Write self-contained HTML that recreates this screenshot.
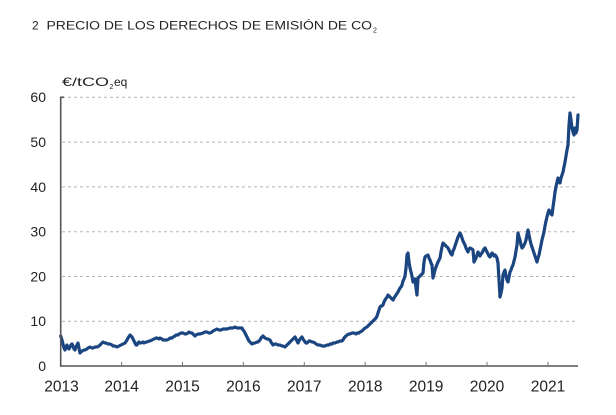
<!DOCTYPE html>
<html>
<head>
<meta charset="utf-8">
<style>
html,body{margin:0;padding:0;background:#fff;}
svg{display:block;}
text{font-family:"Liberation Sans",Arial,sans-serif;fill:#222;}
</style>
</head>
<body>
<svg width="616" height="415" viewBox="0 0 616 415" xmlns="http://www.w3.org/2000/svg">
<rect width="616" height="415" fill="#fff"/>
<!-- title -->
<text x="32" y="29.5" font-size="12">2</text>
<text x="46.5" y="29.5" font-size="12" textLength="325.5" lengthAdjust="spacingAndGlyphs">PRECIO DE LOS DERECHOS DE EMISIÓN DE CO</text>
<text x="373" y="32.5" font-size="7">2</text>
<!-- unit -->
<text x="62" y="86" font-size="12" textLength="47" lengthAdjust="spacingAndGlyphs">€/tCO</text>
<text x="109.5" y="89" font-size="7">2</text>
<text x="114" y="86" font-size="12">eq</text>
<!-- gridlines -->
<g stroke="#b5b5b5" stroke-width="1" stroke-dasharray="3,3">
<line x1="62" y1="97.3" x2="578" y2="97.3"/>
<line x1="62" y1="142.1" x2="578" y2="142.1"/>
<line x1="62" y1="186.9" x2="578" y2="186.9"/>
<line x1="62" y1="231.7" x2="578" y2="231.7"/>
<line x1="62" y1="276.5" x2="578" y2="276.5"/>
<line x1="62" y1="321.3" x2="578" y2="321.3"/>
</g>
<!-- y labels -->
<g font-size="14" text-anchor="end">
<text x="46" y="102">60</text>
<text x="46" y="147">50</text>
<text x="46" y="192">40</text>
<text x="46" y="236.5">30</text>
<text x="46" y="281.5">20</text>
<text x="46" y="326">10</text>
<text x="46" y="371">0</text>
</g>
<!-- series -->
<polyline fill="none" stroke="#1a4580" stroke-width="3.2" stroke-linejoin="round" stroke-linecap="round" points="
60.7,336 62,340 63,344 64,348 65,350 66,347 67,345 68,348 69,349 70,347 71,345 72,344 73,346 74,349 75,350 76,347 77,345 78,343 79,348 80,353 81,352 82,351 84,350 85,350 87,349 88,348 90,347 92,348 93,348 95,347 97,347 99,346 100,345 102,343 103,342 105,343 106,343 108,344 110,344 112,345 113,346 115,346 117,347 119,346 121,345 123,344 125,343 127,340 128,338 130,335 131,336 132,337 133,339 134,341 135,343 136,345 137,345 138,343 139,342 140,343 141,343 143,342 144,343 146,342 147,342 149,341 150,341 152,340 154,339 156,338 157,338 159,339 160,338 162,339 163,340 165,340 167,340 169,339 170,338 172,338 173,337 175,336 176,335 178,335 179,334 181,333 183,333 185,334 186,334 188,333 189,332 191,333 192,333 194,335 195,336 196,335 198,334 200,334 203,333 205,332 207,332 209,333 210,333 212,332 213,331 215,330 217,329 219,330 221,330 223,329 225,329 227,329 230,328 232,328 233,328 235,327 237,328 238,328 240,328 242,328 243,330 244,331 246,335 247,337 249,341 250,342 252,344 254,343 255,343 257,342 258,342 260,340 261,338 262,337 263,336 264,337 265,338 267,339 268,339 270,340 271,342 273,345 275,344 276,344 278,345 280,345 282,346 283,346 285,347 287,345 288,344 290,342 292,340 293,339 295,337 296,339 297,341 298,343 299,341 300,339 301,338 302,337 303,339 305,342 306,343 307,343 309,341 310,341 312,342 313,342 315,343 316,344 318,345 320,345 322,346 323,346 325,346 327,345 329,345 330,344 332,344 333,343 335,343 337,342 338,342 340,341 342,341 343,340 344,338 345,337 346,336 347,335 349,334 350,334 352,333 354,333 356,334 357,333 359,333 360,332 362,331 363,330 365,328 367,327 368,326 370,324 371,323 372,322 374,320 375,319 376,318 377,316 378,313 379,310 380,307 381,306 382,306 383,305 384,302 385,300 387,297 388,295 389,296 390,297 392,299 393,300 394,298 396,295 398,292 400,288 401,287 402,285 403,281 404,279 405,276 406,268 407,255 408,253 409,262 410,268 411,272 412,276 413,282 414,280 415,279 416,288 417,295 418,278 419,277 420,276 422,274 423,273 424,262 425,257 426,256 428,255 429,258 430,260 431,263 432,265 433,278 434,274 435,270 436,267 438,262 439,260 440,258 441,252 442,247 443,243 444,244 446,246 447,247 448,248 449,250 450,252 451,254 452,255 453,251 454,249 455,246 456,243 457,240 458,237 459,235 460,233 461,235 462,238 463,241 464,243 465,245 466,248 467,250 468,252 469,249 470,248 472,249 473,250 474,262 475,260 476,258 477,255 478,252 479,254 480,256 481,254 482,253 483,251 484,249 485,248 486,250 487,252 488,254 489,256 490,257 491,255 492,253 493,254 494,256 495,255 496,256 497,258 498,263 499,280 500,297 501,293 502,288 503,275 504,272 505,270 506,276 507,280 508,282 509,277 510,272 511,270 512,267 513,265 514,261 515,257 516,251 517,245 518,233 519,237 520,240 521,245 522,248 523,247 524,245 525,243 526,240 527,235 528,230 529,235 530,240 531,244 532,247 533,250 534,253 535,256 536,259 537,262 538,258 539,255 540,250 541,245 542,240 543,236 544,232 545,226 546,221 547,217 548,213 549,210 550,212 551,214 552,215 553,207 554,200 555,192 556,187 557,182 558,178 559,181 560,183 561,178 562,175 563,172 564,167 565,162 566,156 567,150 568,145 569,125 570,113 571,120 572,128 573,132 574,135 575,128 576,133 577,130 578,115"/>
<!-- axes -->
<g stroke="#555" stroke-width="1.6" fill="none">
<line x1="60.7" y1="96.5" x2="60.7" y2="366.8"/>
<line x1="60" y1="366" x2="578" y2="366"/>
<line x1="60.7" y1="97.3" x2="64" y2="97.3"/>
</g>
<g stroke="#777" stroke-width="1">
<line x1="121.6" y1="362" x2="121.6" y2="366"/>
<line x1="182.5" y1="362" x2="182.5" y2="366"/>
<line x1="243.4" y1="362" x2="243.4" y2="366"/>
<line x1="304.3" y1="362" x2="304.3" y2="366"/>
<line x1="365.2" y1="362" x2="365.2" y2="366"/>
<line x1="426.1" y1="362" x2="426.1" y2="366"/>
<line x1="487" y1="362" x2="487" y2="366"/>
<line x1="548" y1="362" x2="548" y2="366"/>
</g>
<!-- x labels -->
<g font-size="15.5" text-anchor="middle">
<text x="61.5" y="391.5">2013</text>
<text x="121.6" y="391.5">2014</text>
<text x="182.5" y="391.5">2015</text>
<text x="243.4" y="391.5">2016</text>
<text x="304.3" y="391.5">2017</text>
<text x="365.2" y="391.5">2018</text>
<text x="426.1" y="391.5">2019</text>
<text x="487" y="391.5">2020</text>
<text x="548" y="391.5">2021</text>
</g>
</svg>
</body>
</html>
